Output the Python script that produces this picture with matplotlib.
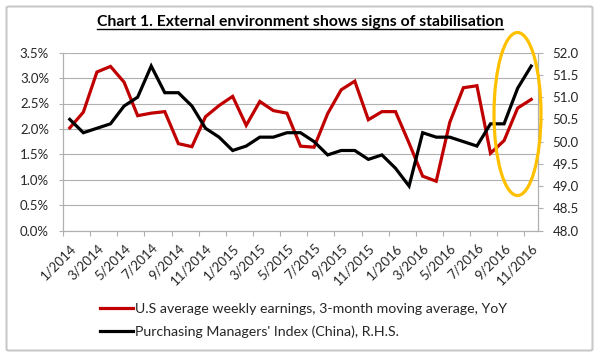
import matplotlib.pyplot as plt
import numpy as np
from matplotlib.patches import Ellipse, FancyBboxPatch
from matplotlib.lines import Line2D
from matplotlib.ticker import FuncFormatter, MultipleLocator, FixedLocator

plt.rcParams['font.family'] = ['Lato', 'DejaVu Sans']

# monthly, 1/2014 .. 11/2016
months = [f"{m}/{y}" for y in (2014, 2015, 2016) for m in range(1, 13)][:35]

# US average weekly earnings, 3m moving average, YoY (%)
us_earnings = [2.02, 2.33, 3.12, 3.23, 2.92, 2.26, 2.31, 2.34, 1.71, 1.65,
               2.24, 2.46, 2.64, 2.07, 2.54, 2.36, 2.31, 1.66, 1.64, 2.30,
               2.77, 2.94, 2.18, 2.34, 2.34, 1.72, 1.07, 0.97, 2.13, 2.81,
               2.85, 1.52, 1.77, 2.41, 2.58]

# China PMI (right axis)
china_pmi = [50.5, 50.2, 50.3, 50.4, 50.8, 51.0, 51.7, 51.1, 51.1, 50.8,
             50.3, 50.1, 49.8, 49.9, 50.1, 50.1, 50.2, 50.2, 50.0, 49.7,
             49.8, 49.8, 49.6, 49.7, 49.4, 49.0, 50.2, 50.1, 50.1, 50.0,
             49.9, 50.4, 50.4, 51.2, 51.7]

red = '#C00000'
grid_c = '#B0B0B0'
txt_c = '#262626'

fig = plt.figure(figsize=(6, 3.61), dpi=100)
ax = fig.add_axes([63 / 600, 1 - 230.5 / 361, 475 / 600, 177.8 / 361])
ax2 = ax.twinx()

x = np.arange(len(months))
l1, = ax.plot(x, us_earnings, color=red, lw=2.3, solid_joinstyle='miter')
l2, = ax2.plot(x, china_pmi, color='black', lw=2.3, solid_joinstyle='miter')

ax.set_xlim(-0.5, len(months) - 0.5)
ax.set_ylim(0, 3.5)
ax2.set_ylim(48, 52)
ax.yaxis.set_major_locator(MultipleLocator(0.5))
ax2.yaxis.set_major_locator(MultipleLocator(0.5))
ax.yaxis.set_major_formatter(FuncFormatter(lambda v, p: f"{v:.1f}%"))
ax2.yaxis.set_major_formatter(FuncFormatter(lambda v, p: f"{v:.1f}"))

ax.grid(axis='y', color=grid_c, lw=0.8)
ax.set_axisbelow(True)

# labels on every other month, tick marks between categories
ax.set_xticks(x[::2])
ax.set_xticklabels(months[::2], rotation=45, ha='right', va='top',
                   rotation_mode='anchor')
ax.xaxis.set_minor_locator(FixedLocator(np.arange(-0.5, len(months) - 0.5, 2)))
ax.tick_params(axis='x', which='major', length=0, pad=8, labelsize=9.5,
               labelcolor=txt_c)
ax.tick_params(axis='x', which='minor', length=3.5, color=grid_c, width=0.8)
ax.tick_params(axis='y', length=3, color=grid_c, width=0.8, pad=7,
               labelsize=9.5, labelcolor=txt_c)
ax2.tick_params(axis='y', length=3.5, color=grid_c, width=0.8, pad=7,
                labelsize=9.5, labelcolor=txt_c)

for a in (ax, ax2):
    a.spines['top'].set_visible(False)
    for s in ('left', 'right', 'bottom'):
        a.spines[s].set_color(grid_c)
        a.spines[s].set_linewidth(0.8)

# title with underline
title = fig.text(0.5, 1 - 22 / 361, 'Chart 1. External environment shows signs of stabilisation',
                 ha='center', va='center', fontsize=11.3, fontweight='bold', color='black')
fig.canvas.draw()
bb = title.get_window_extent().transformed(fig.transFigure.inverted())
fig.add_artist(Line2D([bb.x0, bb.x1], [1 - 29 / 361] * 2, transform=fig.transFigure,
                      color='black', lw=1))

# highlight ellipse
fig.add_artist(Ellipse((517.5 / 600, 1 - 114 / 361), 47 / 600, 163 / 361,
                       transform=fig.transFigure, fill=False,
                       edgecolor='#FFC000', lw=2.3, zorder=10))

# outer frame
fig.add_artist(FancyBboxPatch((6.5 / 600, 1 - 350.5 / 361), 586 / 600, 344 / 361,
                              boxstyle='round,pad=0,rounding_size=0.004',
                              transform=fig.transFigure, fill=False,
                              edgecolor='#C8C8C8', lw=1.5))

fig.legend([l1, l2],
           ['U.S average weekly earnings, 3-month moving average, YoY',
            "Purchasing Managers' Index (China), R.H.S."],
           loc='upper left', bbox_to_anchor=(100 / 600, 1 - 303 / 361),
           frameon=False, fontsize=10.2, borderpad=0, borderaxespad=0,
           handlelength=2.3, handletextpad=0.15, labelspacing=0.75,
           labelcolor=txt_c)

fig.savefig('out.png', dpi=100)
